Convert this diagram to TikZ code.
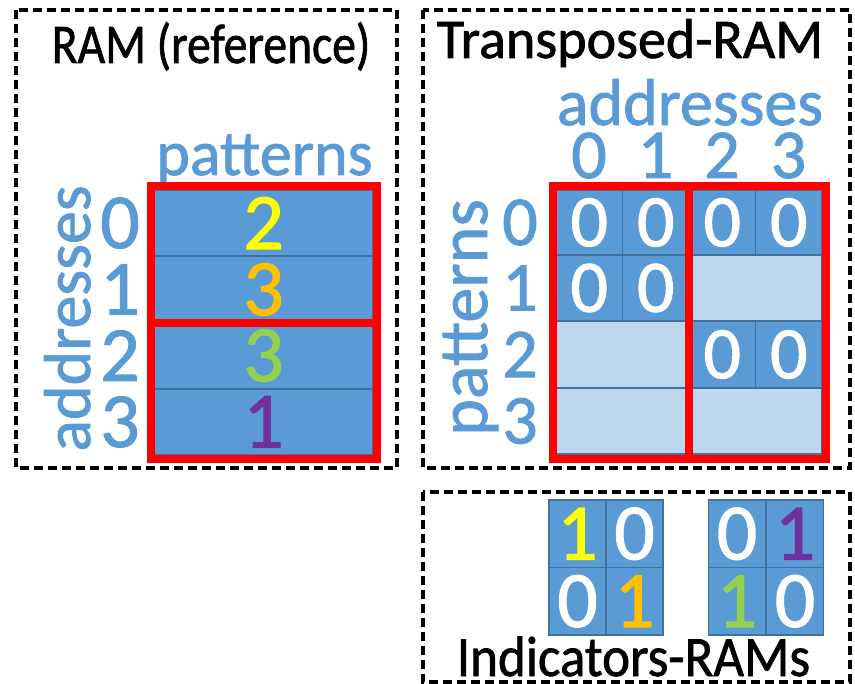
\documentclass[tikz,border=0pt]{standalone}
\usepackage{fontspec}
\setmainfont{Carlito}[FakeBold=1.3]
\definecolor{cellblue}{HTML}{5B9BD5}
\definecolor{cellline}{HTML}{41719C}
\definecolor{celllight}{HTML}{BDD7EE}
\definecolor{labelblue}{HTML}{5B9BD5}
\definecolor{frame}{HTML}{FF0000}
\definecolor{dyellow}{HTML}{FFFF00}
\definecolor{dorange}{HTML}{FFC000}
\definecolor{dgreen}{HTML}{92D050}
\definecolor{dpurple}{HTML}{7030A0}
\newcommand{\fs}[1]{\fontsize{#1}{#1}\selectfont}
\tikzset{
  panel/.style={draw=black, line width=3.6pt, dash pattern=on 9pt off 5pt},
  cellbox/.style={draw=cellline, line width=1.8pt, fill=cellblue, inner sep=0pt, text=white},
  lightbox/.style={draw=cellline, line width=1.8pt, fill=celllight, inner sep=0pt},
  group/.style={draw=frame, line width=8pt},
  lbl/.style={text=labelblue, inner sep=0pt},
  ttl/.style={text=black, inner sep=0pt, anchor=base},
}
\begin{document}
\begin{tikzpicture}[x=1pt,y=-1pt]
\useasboundingbox (0,0) rectangle (855,684);

% ---------- RAM (reference) ----------
\draw[panel] (16,10) rectangle (397,468);
\node[ttl, font=\fs{56}] (t1) at (211,63) {\scalebox{0.85}[1]{RAM (reference)}};
\node[lbl, anchor=base, font=\fs{64}] (p1) at (264.5,175) {patterns};
\node[lbl, anchor=base, rotate=90, font=\fs{66}] (a1) at (90,318.5) {addresses};

\begin{scope}[every node/.append style={cellbox, minimum width=219pt, minimum height=66.25pt, font=\fs{80}}]
  \node (m0) at (263.5,223.1) {\textcolor{dyellow}{2}};
  \node (m1) at (263.5,289.4) {\textcolor{dorange}{3}};
  \node (m2) at (263.5,355.6) {\textcolor{dgreen}{3}};
  \node (m3) at (263.5,421.9) {\textcolor{dpurple}{1}};
\end{scope}
\foreach \i/\y in {0/223.1,1/289.4,2/355.6,3/421.9}
  \node[lbl, font=\fs{78}] (ra\i) at (120,\y) {\i};
\draw[group] (150.5,186.5) rectangle (377,323);
\draw[group] (150.5,323) rectangle (377,459.5);

% ---------- Transposed-RAM ----------
\draw[panel] (423,10) rectangle (850,468);
\node[ttl, font=\fs{56}] (t2) at (630,58) {Transposed-RAM};
\node[lbl, anchor=base, font=\fs{66}] (a2) at (690,125) {addresses};
\foreach \i/\x in {0/589,1/655.5,2/722,3/788.5}
  \node[lbl, anchor=base, font=\fs{70}] (ca\i) at (\x,178) {\i};
\node[lbl, anchor=base, rotate=90, font=\fs{70}] (p2) at (487,317.5) {patterns};
\foreach \i/\y in {0/222.5,1/288,2/354.5,3/421}
  \node[lbl, font=\fs{70}] (rp\i) at (520,\y) {\i};

\begin{scope}[every node/.append style={font=\fs{74}}]
  % row 0
  \node[cellbox, minimum width=66.5pt, minimum height=65pt] (c00) at (589.25,222.5) {0};
  \node[cellbox, minimum width=66.5pt, minimum height=65pt] (c01) at (655.75,222.5) {0};
  \node[cellbox, minimum width=66.5pt, minimum height=65pt] (c02) at (722.25,222.5) {0};
  \node[cellbox, minimum width=66.5pt, minimum height=65pt] (c03) at (788.75,222.5) {0};
  % row 1
  \node[cellbox, minimum width=66.5pt, minimum height=66pt] (c10) at (589.25,288) {0};
  \node[cellbox, minimum width=66.5pt, minimum height=66pt] (c11) at (655.75,288) {0};
  \node[lightbox, minimum width=133pt, minimum height=66pt] (c1r) at (755.5,288) {};
  % row 2
  \node[lightbox, minimum width=133pt, minimum height=67pt] (c2l) at (622.5,354.5) {};
  \node[cellbox, minimum width=66.5pt, minimum height=67pt] (c22) at (722.25,354.5) {0};
  \node[cellbox, minimum width=66.5pt, minimum height=67pt] (c23) at (788.75,354.5) {0};
  % row 3
  \node[lightbox, minimum width=133pt, minimum height=66pt] (c3l) at (622.5,421) {};
  \node[lightbox, minimum width=133pt, minimum height=66pt] (c3r) at (755.5,421) {};
\end{scope}
\draw[group] (552.5,186.5) rectangle (689,459);
\draw[group] (689,186.5) rectangle (825.5,459);

% ---------- Indicators-RAMs ----------
\draw[panel] (423,492) rectangle (850,682);
\begin{scope}[every node/.append style={cellbox, minimum width=57pt, minimum height=67.5pt, font=\fs{80}}]
  \node (i00) at (577.5,533.75) {\textcolor{dyellow}{1}};
  \node (i01) at (634.5,533.75) {0};
  \node (i10) at (577.5,601.25) {0};
  \node (i11) at (634.5,601.25) {\textcolor{dorange}{1}};
  \node (j00) at (737,533.75) {0};
  \node (j01) at (795,533.75) {\textcolor{dpurple}{1}};
  \node (j10) at (737,601.25) {\textcolor{dgreen}{1}};
  \node (j11) at (795,601.25) {0};
\end{scope}
\node[ttl, font=\fs{57}] (t3) at (633.5,676) {\scalebox{0.93}[1]{Indicators-RAMs}};
\end{tikzpicture}
\end{document}
